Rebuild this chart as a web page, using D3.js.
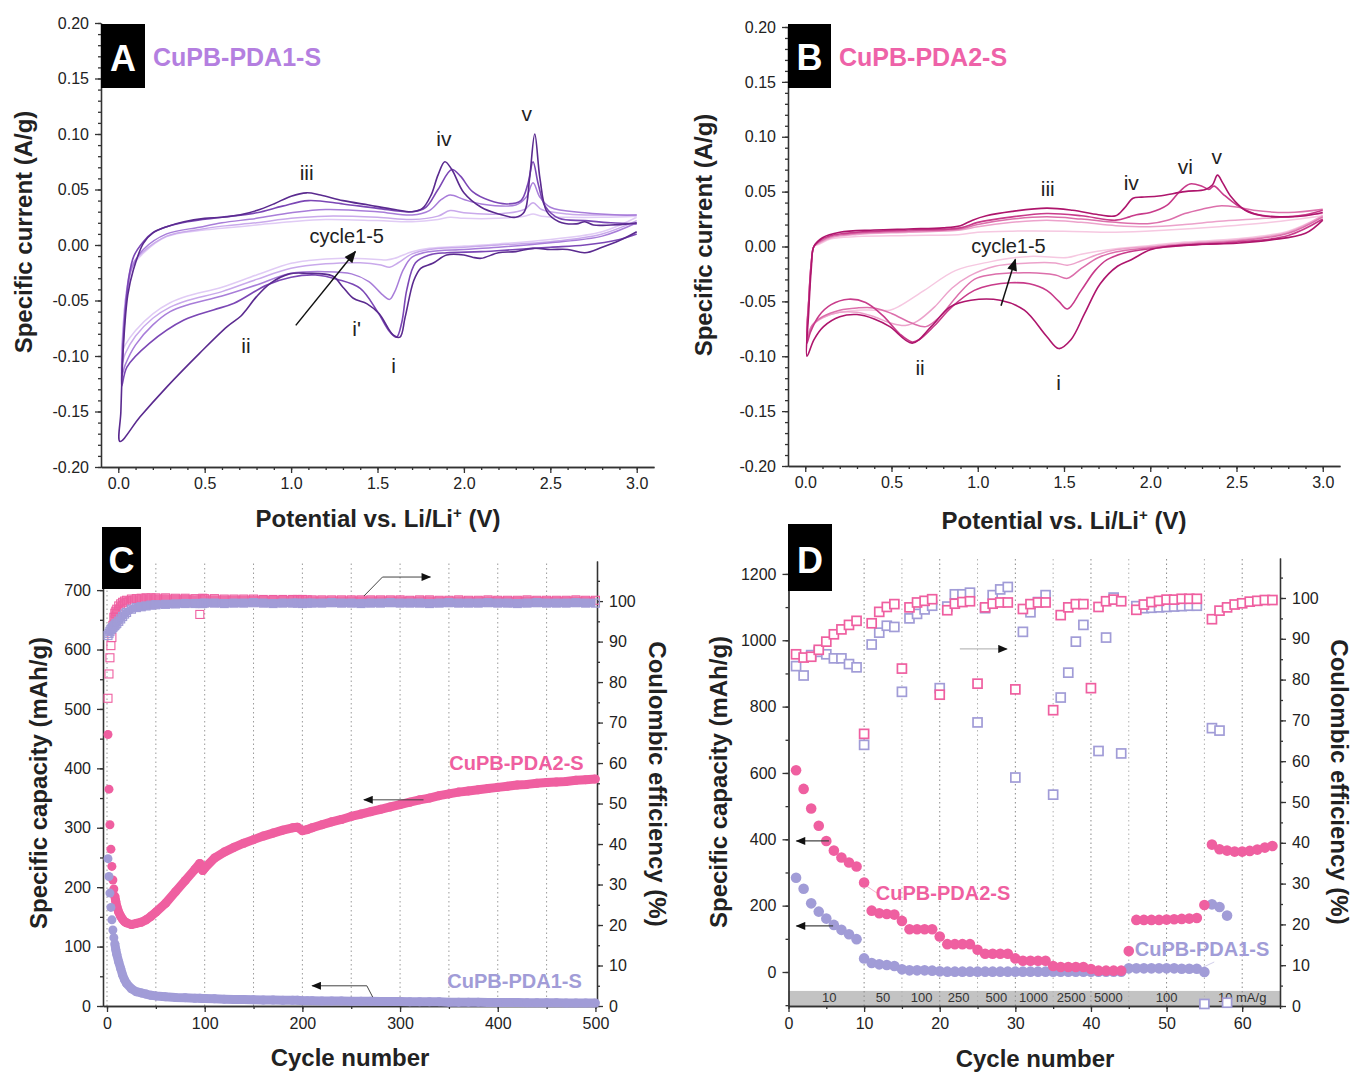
<!DOCTYPE html>
<html><head><meta charset="utf-8">
<script src="https://cdn.jsdelivr.net/npm/d3@7"></script>
<style>
body{margin:0;background:#fff;}
svg text{font-family:"Liberation Sans",Arial,sans-serif;}
</style></head><body>
<svg id="chart" width="1354" height="1074"></svg>
<script>
// ---------------- DATA ----------------
// Panel A: CV of CuPB-PDA1-S, cycles 1..5, [potential V, current A/g]
const cvA1 = [[3.0,0.012],[2.9,0.004],[2.8,-0.002],[2.7,-0.007],[2.6,-0.004],[2.5,-0.004],[2.4,-0.003],[2.3,-0.006],[2.2,-0.007],[2.1,-0.012],[2.05,-0.011],[2.0,-0.009],[1.9,-0.009],[1.82,-0.0165],[1.75,-0.021],[1.71,-0.032],[1.66,-0.065],[1.63,-0.083],[1.59,-0.081],[1.51,-0.062],[1.44,-0.053],[1.36,-0.048],[1.3,-0.038],[1.24,-0.028],[1.09,-0.0255],[0.99,-0.026],[0.88,-0.0345],[0.8,-0.0465],[0.74,-0.0585],[0.71,-0.064],[0.63,-0.0735],[0.47,-0.0976],[0.28,-0.128],[0.125,-0.155],[0.01,-0.177],
  [0.015,-0.15],[0.03,-0.09],[0.055,-0.045],[0.087,-0.0225],[0.145,0.0015],[0.2,0.011],[0.28,0.0165],[0.38,0.021],[0.5,0.024],[0.6,0.025],[0.7,0.027],[0.8,0.031],[0.9,0.037],[1.0,0.044],[1.09,0.047],[1.17,0.045],[1.3,0.04],[1.45,0.036],[1.6,0.032],[1.7,0.03],[1.76,0.033],[1.81,0.045],[1.85,0.063],[1.89,0.075],[1.93,0.068],[2.0,0.047],[2.1,0.034],[2.2,0.028],[2.3,0.025],[2.35,0.03],[2.38,0.06],[2.41,0.1],[2.44,0.06],[2.48,0.03],[2.55,0.021],[2.65,0.019],[2.7,0.021],[2.75,0.018],[2.85,0.018],[2.95,0.019],[3.0,0.02]];
const cvA2 = [[3.0,0.01],[2.9,0.005],[2.7,0.0],[2.5,-0.002],[2.3,-0.004],[2.1,-0.006],[1.9,-0.007],[1.8,-0.009],[1.72,-0.016],[1.67,-0.04],[1.64,-0.07],[1.61,-0.083],[1.57,-0.078],[1.5,-0.06],[1.4,-0.039],[1.27,-0.031],[1.14,-0.027],[1.0,-0.029],[0.86,-0.036],[0.67,-0.0525],[0.55,-0.0585],[0.38,-0.0676],[0.18,-0.0886],[0.05,-0.11],[0.02,-0.127],
  [0.025,-0.1],[0.04,-0.06],[0.06,-0.03],[0.09,-0.01],[0.145,0.003],[0.2,0.011],[0.28,0.0165],[0.4,0.021],[0.6,0.025],[0.8,0.029],[0.95,0.035],[1.1,0.04],[1.3,0.037],[1.5,0.033],[1.7,0.03],[1.78,0.034],[1.85,0.05],[1.93,0.068],[1.98,0.062],[2.05,0.048],[2.15,0.04],[2.25,0.037],[2.33,0.04],[2.37,0.055],[2.4,0.075],[2.43,0.055],[2.47,0.035],[2.55,0.024],[2.7,0.022],[2.85,0.02],[3.0,0.019]];
const cvA3 = [[3.0,0.02],[2.8,0.008],[2.5,0.002],[2.2,-0.002],[2.0,-0.004],[1.8,-0.006],[1.7,-0.011],[1.65,-0.022],[1.6,-0.042],[1.57,-0.049],[1.53,-0.045],[1.45,-0.033],[1.35,-0.026],[1.2,-0.024],[1.0,-0.0255],[0.8,-0.036],[0.6,-0.046],[0.4,-0.054],[0.3,-0.06],[0.2,-0.072],[0.1,-0.09],[0.04,-0.108],[0.02,-0.118],
  [0.025,-0.09],[0.045,-0.05],[0.08,-0.02],[0.145,-0.004],[0.28,0.01],[0.47,0.016],[0.6,0.02],[0.8,0.024],[1.0,0.029],[1.2,0.032],[1.5,0.03],[1.7,0.027],[1.8,0.031],[1.87,0.041],[1.92,0.045],[2.0,0.041],[2.1,0.037],[2.3,0.036],[2.36,0.043],[2.4,0.056],[2.44,0.043],[2.5,0.034],[2.7,0.029],[2.9,0.027],[3.0,0.027]];
const cvA4 = [[3.0,0.022],[2.8,0.01],[2.5,0.003],[2.2,0.0],[2.0,-0.002],[1.8,-0.004],[1.7,-0.008],[1.62,-0.016],[1.57,-0.02],[1.52,-0.018],[1.4,-0.016],[1.2,-0.017],[1.0,-0.021],[0.8,-0.031],[0.6,-0.042],[0.4,-0.05],[0.3,-0.056],[0.2,-0.066],[0.1,-0.082],[0.04,-0.098],[0.02,-0.108],
  [0.025,-0.085],[0.045,-0.045],[0.08,-0.018],[0.145,-0.006],[0.28,0.008],[0.47,0.014],[0.6,0.017],[0.8,0.02],[1.0,0.024],[1.2,0.026],[1.5,0.025],[1.7,0.023],[1.85,0.026],[1.92,0.031],[2.0,0.029],[2.2,0.028],[2.35,0.032],[2.4,0.038],[2.45,0.032],[2.6,0.028],[2.8,0.027],[3.0,0.027]];
const cvA5 = [[3.0,0.025],[2.8,0.012],[2.5,0.005],[2.2,0.001],[2.0,-0.001],[1.8,-0.003],[1.7,-0.006],[1.6,-0.012],[1.55,-0.0135],[1.5,-0.013],[1.3,-0.012],[1.1,-0.014],[1.0,-0.0165],[0.8,-0.027],[0.6,-0.038],[0.4,-0.046],[0.3,-0.052],[0.2,-0.062],[0.1,-0.077],[0.04,-0.09],[0.02,-0.097],
  [0.025,-0.08],[0.045,-0.045],[0.08,-0.02],[0.145,-0.0075],[0.28,0.0075],[0.47,0.013],[0.6,0.015],[0.8,0.018],[1.0,0.021],[1.2,0.023],[1.5,0.022],[1.7,0.021],[1.85,0.023],[1.92,0.025],[2.0,0.024],[2.2,0.024],[2.35,0.026],[2.4,0.028],[2.45,0.026],[2.6,0.025],[2.8,0.025],[3.0,0.026]];

// Panel B: CV of CuPB-PDA2-S, cycles 1..5
const cvB1 = [[3.0,0.024],[2.9,0.012],[2.7,0.006],[2.5,0.003],[2.3,0.002],[2.1,0.0],[2.0,-0.003],[1.89,-0.012],[1.81,-0.018],[1.71,-0.034],[1.62,-0.061],[1.54,-0.085],[1.47,-0.093],[1.4,-0.082],[1.27,-0.058],[1.13,-0.049],[0.96,-0.049],[0.84,-0.055],[0.73,-0.073],[0.62,-0.088],[0.49,-0.073],[0.4,-0.066],[0.3,-0.062],[0.2,-0.064],[0.106,-0.073],[0.05,-0.085],[0.01,-0.1],
  [0.02,-0.06],[0.035,-0.02],[0.05,0.0],[0.1,0.008],[0.2,0.013],[0.4,0.015],[0.6,0.016],[0.8,0.017],[0.9,0.019],[0.97,0.024],[1.05,0.028],[1.2,0.032],[1.4,0.035],[1.55,0.033],[1.7,0.029],[1.8,0.028],[1.85,0.035],[1.9,0.044],[1.95,0.045],[2.05,0.046],[2.2,0.05],[2.32,0.052],[2.36,0.056],[2.39,0.065],[2.42,0.058],[2.47,0.045],[2.55,0.033],[2.65,0.028],[2.8,0.027],[2.9,0.028],[3.0,0.031]];
const cvB2 = [[3.0,0.025],[2.8,0.01],[2.5,0.004],[2.2,0.001],[2.0,-0.002],[1.85,-0.006],[1.75,-0.012],[1.68,-0.022],[1.6,-0.04],[1.52,-0.057],[1.47,-0.05],[1.4,-0.04],[1.3,-0.034],[1.19,-0.033],[1.08,-0.035],[0.98,-0.04],[0.85,-0.055],[0.75,-0.072],[0.66,-0.085],[0.62,-0.087],[0.55,-0.08],[0.45,-0.063],[0.35,-0.051],[0.25,-0.048],[0.15,-0.053],[0.08,-0.063],[0.03,-0.078],[0.01,-0.088],
  [0.02,-0.05],[0.035,-0.015],[0.05,0.0],[0.08,0.005],[0.15,0.01],[0.3,0.013],[0.6,0.015],[0.9,0.017],[1.0,0.022],[1.2,0.027],[1.4,0.03],[1.6,0.028],[1.8,0.024],[1.88,0.027],[1.92,0.029],[2.0,0.031],[2.1,0.038],[2.17,0.05],[2.23,0.057],[2.3,0.055],[2.34,0.052],[2.37,0.055],[2.42,0.048],[2.5,0.038],[2.6,0.03],[2.75,0.027],[2.9,0.029],[3.0,0.033]];
const cvB3 = [[3.0,0.027],[2.8,0.012],[2.5,0.005],[2.2,0.002],[2.0,-0.001],[1.8,-0.005],[1.7,-0.01],[1.6,-0.02],[1.52,-0.029],[1.45,-0.026],[1.3,-0.024],[1.07,-0.026],[0.98,-0.03],[0.88,-0.045],[0.78,-0.064],[0.7,-0.073],[0.62,-0.07],[0.5,-0.061],[0.4,-0.056],[0.3,-0.056],[0.2,-0.058],[0.1,-0.064],[0.04,-0.072],[0.01,-0.085],
  [0.02,-0.05],[0.035,-0.015],[0.05,0.0],[0.08,0.004],[0.15,0.009],[0.3,0.012],[0.6,0.014],[0.9,0.016],[1.0,0.02],[1.2,0.025],[1.4,0.027],[1.6,0.025],[1.8,0.022],[2.0,0.021],[2.1,0.024],[2.2,0.03],[2.3,0.034],[2.4,0.037],[2.5,0.036],[2.6,0.033],[2.8,0.031],[3.0,0.034]];
const cvB4 = [[3.0,0.028],[2.8,0.013],[2.5,0.006],[2.2,0.003],[2.0,0.0],[1.8,-0.003],[1.7,-0.007],[1.6,-0.013],[1.52,-0.017],[1.45,-0.015],[1.3,-0.015],[1.1,-0.018],[0.95,-0.027],[0.85,-0.038],[0.75,-0.055],[0.65,-0.068],[0.58,-0.072],[0.5,-0.07],[0.4,-0.064],[0.3,-0.06],[0.2,-0.06],[0.1,-0.065],[0.04,-0.072],[0.01,-0.082],
  [0.02,-0.05],[0.035,-0.015],[0.05,0.0],[0.08,0.003],[0.15,0.008],[0.3,0.011],[0.6,0.013],[0.9,0.015],[1.0,0.018],[1.2,0.022],[1.4,0.024],[1.6,0.022],[1.8,0.019],[2.0,0.018],[2.2,0.02],[2.4,0.023],[2.6,0.025],[2.8,0.027],[3.0,0.03]];
const cvB5 = [[3.0,0.028],[2.8,0.014],[2.5,0.007],[2.2,0.004],[2.0,0.001],[1.8,-0.002],[1.6,-0.007],[1.52,-0.01],[1.3,-0.009],[1.07,-0.014],[0.87,-0.022],[0.69,-0.04],[0.55,-0.054],[0.49,-0.058],[0.4,-0.058],[0.3,-0.058],[0.2,-0.06],[0.1,-0.065],[0.04,-0.072],[0.01,-0.08],
  [0.02,-0.05],[0.035,-0.015],[0.05,0.0],[0.08,0.002],[0.15,0.007],[0.3,0.009],[0.6,0.01],[0.9,0.011],[1.0,0.013],[1.2,0.014],[1.5,0.014],[1.8,0.013],[2.1,0.015],[2.4,0.018],[2.7,0.022],[3.0,0.028]];

const cvTicksX = [0,0.5,1.0,1.5,2.0,2.5,3.0];
const cvTicksY = [-0.2,-0.15,-0.1,-0.05,0,0.05,0.1,0.15,0.2];

// Panel C: long cycling
const cCycles   = [1,2,3,4,5,6,7,8,9,10,12,14,16,18,20,25,30,35,40,45,50,60,70,80,90,95,98,100,110,120,130,140,150,160,170,180,190,195,200,205,210,220,230,240,250,260,270,280,290,300,310,320,330,340,350,360,370,380,390,400,410,420,430,440,450,460,470,480,490,500];
const cPda2Cap  = [457,365,305,264,235,212,197,185,176,168,158,151,146,142,140,137,139,141,145,151,158,173,192,211,230,240,228,232,249,259,267,274,280,286,291,296,300,301,295,297,300,305,310,314,319,323,327,331,335,339,343,347,350,354,357,360,362,364,366,368,370,372,373,375,376,377,378,380,381,382];
const cPda1Cap  = [248,218,190,166,145,128,115,105,95,87,74,63,52,44,38,29,24,22,20,18,17,15.5,14.5,14,13,13,12.5,12.5,12,11.5,11,11,10.5,10,10,9.5,9.5,9.5,9,9,9,8.5,8.5,8.5,8,8,8,7.5,7.5,7.5,7,7,7,7,6.5,6.5,6.5,6.5,6,6,6,6,5.5,5.5,5.5,5.5,5,5,5,5];
const cPda2CE   = [76,82,86,89,91,94,96,97,97.5,98,98.8,99.3,99.7,100,100.2,100.5,100.6,100.7,100.8,100.8,100.8,100.8,100.7,100.7,100.6,96.7,100.7,100.6,100.6,100.5,100.5,100.5,100.5,100.4,100.4,100.4,100.4,100.4,100.4,100.3,100.3,100.3,100.3,100.3,100.3,100.3,100.3,100.3,100.3,100.3,100.2,100.3,100.3,100.2,100.2,100.3,100.2,100.2,100.3,100.2,100.2,100.2,100.3,100.2,100.2,100.2,100.2,100.3,100.2,100.2];
const cPda1CE   = [91.5,92,92.5,93,93.2,93.5,93.8,94,94.3,94.5,95,95.6,96.2,96.8,97.2,98,98.4,98.6,98.8,99,99.1,99.2,99.3,99.4,99.4,99.4,99.4,99.5,99.5,99.4,99.5,99.5,99.6,99.5,99.4,99.5,99.5,99.5,99.4,99.5,99.5,99.5,99.6,99.5,99.5,99.4,99.5,99.5,99.6,99.5,99.5,99.5,99.4,99.5,99.6,99.5,99.5,99.5,99.6,99.5,99.5,99.4,99.5,99.6,99.5,99.5,99.5,99.6,99.5,99.5];

// Panel D: rate capability
const dCycles = [1,2,3,4,5,6,7,8,9,10,11,12,13,14,15,16,17,18,19,20,21,22,23,24,25,26,27,28,29,30,31,32,33,34,35,36,37,38,39,40,41,42,43,44,45,46,47,48,49,50,51,52,53,54,55,56,57,58,59,60,61,62,63,64];
const dPda2Cap = [608,552,493,441,395,366,345,330,318,270,185,177,175,173,154,129,129,129,129,107,84,84,84,84,67,55,55,55,55,41,34,34,34,34,18,15,15,15,15,9,4,4,4,4,63,157,157,157,157,158,159,160,161,163,202,384,370,366,363,363,365,369,375,380];
const dPda1Cap = [284,251,207,182,161,142,127,114,99,41,27,23,21,18,8,5,5,5,4,2,1,1,1,1,1,1,1,1,1,1,1,1,1,1,1,1,1,1,1,1,1,1,1,1,11,11,11,11,11,11,11,10,10,10,0,204,196,170];
const dPda2CE  = [86.2,85.4,85.6,87.3,89.3,91.1,92.3,93.4,94.4,66.7,93.8,96.6,97.8,98.5,82.7,97.7,98.9,99.3,99.7,76.3,97.0,98.6,99.0,99.2,79.0,97.7,98.6,98.9,98.9,77.6,97.3,98.5,98.9,98.9,72.5,95.8,97.7,98.5,98.5,77.9,97.8,99.2,99.6,99.2,null,97.1,98.4,99.0,99.3,99.6,99.6,99.8,99.8,99.8,null,94.8,96.9,97.7,98.4,98.7,99.1,99.3,99.5,99.5];
const dPda1CE  = [83.3,81.0,86.0,86.8,86.2,85.2,85.2,83.8,83.0,64.0,88.6,91.5,93.2,92.9,77.0,95.0,96.1,97.2,98.1,77.9,97.9,100.9,100.9,101.3,69.5,97.5,100.7,102.1,102.7,56.0,91.7,96.5,99.0,100.7,51.8,75.6,81.7,89.3,93.4,null,62.5,90.3,100.1,61.9,null,98.0,97.5,97.6,97.7,97.8,97.9,98.0,98.1,98.1,0.5,68.1,67.5,0.8];
const dRateLabels  = ["10","50","100","250","500","1000","2500","5000","100","10 mA/g"];
const dRateCenters = [5.4,12.5,17.6,22.5,27.5,32.4,37.4,42.3,50,60];
const dRateBreaks  = [10,15,20,25,30,35,40,45,50,55,60];

// ---------------- STYLE ----------------
const PINK = "#ef5fa0", LAV = "#a19cd7";
const colA = ["#5a2a8f","#7b47b5","#a87dd9","#c9a9eb","#e0cbf5"];
const colB = ["#ae156c","#c83b8a","#dc6fab","#eca2cb","#f6c8e1"];
const INK = "#222";

const svg = d3.select("#chart");
const defs = svg.append("defs");
function mkMarker(id, color, w, h){
  defs.append("marker").attr("id",id).attr("viewBox","0 0 12 10").attr("refX",11).attr("refY",5)
    .attr("markerWidth",w).attr("markerHeight",h).attr("markerUnits","userSpaceOnUse").attr("orient","auto")
    .append("path").attr("d","M0,0 L12,5 L0,10 z").attr("fill",color);
}
mkMarker("ah","#111",13,10);
mkMarker("ahs","#111",11,8);

function addAxis(orient, scale, pos, major, minor, fmt, pad){
  const mk = {left:d3.axisLeft, right:d3.axisRight, bottom:d3.axisBottom}[orient];
  const tr = orient==="bottom" ? `translate(0,${pos})` : `translate(${pos},0)`;
  const gm = svg.append("g").attr("transform",tr)
    .call(mk(scale).tickValues(minor).tickSize(3).tickSizeOuter(0).tickFormat(""));
  const g = svg.append("g").attr("transform",tr)
    .call(mk(scale).tickValues(major).tickSize(6).tickSizeOuter(0).tickPadding(pad).tickFormat(fmt));
  [gm,g].forEach(a=>{a.selectAll("path,line").attr("stroke","#333").attr("stroke-width",1.3);});
  g.attr("font-family","Liberation Sans, Arial, sans-serif").attr("font-size",16);
  g.selectAll("text").attr("fill",INK);
  return g;
}
function rangeStep(a,b,s){const out=[];const n=Math.round((b-a)/s);for(let i=0;i<=n;i++)out.push(+(a+i*s).toFixed(6));return out;}

function title(x,y,txt,rot,opts={}){
  const t = svg.append("text").attr("font-weight","bold").attr("font-size",opts.size||24).attr("fill",INK)
    .attr("text-anchor","middle")
    .attr("transform",`translate(${x},${y})`+(rot?` rotate(${rot})`:""));
  if(opts.sup){
    t.append("tspan").text(txt[0]);
    t.append("tspan").attr("dy",-9).attr("font-size",15).text(txt[1]);
    t.append("tspan").attr("dy",9).text(txt[2]);
  } else t.text(txt);
  return t;
}
function letterBox(x0,y0,x1,y1,letter,by){
  svg.append("rect").attr("x",x0).attr("y",y0).attr("width",x1-x0).attr("height",y1-y0).attr("fill","#000");
  svg.append("text").attr("x",(x0+x1)/2).attr("y",by).attr("text-anchor","middle")
    .attr("fill","#fff").attr("font-family","Lato, 'Open Sans', sans-serif").attr("font-weight","bold")
    .attr("font-size",36).text(letter);
}

// ---------------- PANELS A & B (CV) ----------------
function cvPanel(cfg){
  const x = d3.scaleLinear([-0.1,3.1],[cfg.x0,cfg.x1]);
  const y = d3.scaleLinear([-0.2,0.2],[cfg.yb,cfg.yt]);
  addAxis("left", y, cfg.x0, cvTicksY, rangeStep(-0.2,0.2,0.01), d=>d.toFixed(2), 6);
  addAxis("bottom", x, cfg.yb, cvTicksX, rangeStep(0,3.0,0.1), d=>d.toFixed(1), 5);
  const line = d3.line().x(d=>x(d[0])).y(d=>y(d[1])).curve(d3.curveCatmullRom.alpha(0.5));
  const g = svg.append("g");
  cfg.cycles.slice().reverse().forEach((c,i)=>{
    const k = cfg.cycles.length-1-i;
    g.append("path").datum(c).attr("d",line).attr("fill","none")
      .attr("stroke",cfg.colors[k]).attr("stroke-width",k<2?1.6:1.5).attr("stroke-linejoin","round");
  });
  cfg.labels.forEach(l=>{
    svg.append("text").attr("x",x(l[1])).attr("y",y(l[2])).attr("text-anchor","middle")
      .attr("font-size",l[3]||21).attr("fill",INK).text(l[0]);
  });
  svg.append("line").attr("x1",x(cfg.arrow[0][0])).attr("y1",y(cfg.arrow[0][1]))
    .attr("x2",x(cfg.arrow[1][0])).attr("y2",y(cfg.arrow[1][1]))
    .attr("stroke","#111").attr("stroke-width",1.5).attr("marker-end","url(#ah)");
  return {x,y};
}
const cvLabelsA = [["iii",1.09,0.0588],["iv",1.884,0.0894],["v",2.364,0.112],["ii",0.739,-0.0969],["i'",1.379,-0.0816],["i",1.593,-0.1152],["cycle1-5",1.322,0.0014,20]];
const cvLabelsB = [["iii",1.406,0.0461],["iv",1.89,0.0518],["vi",2.203,0.0665],["v",2.385,0.0749],["ii",0.666,-0.1167],["i",1.468,-0.1308],["cycle1-5",1.178,-0.0056,20]];

cvPanel({x0:101,x1:654,yt:23,yb:467,cycles:[cvA1,cvA2,cvA3,cvA4,cvA5],colors:colA,labels:cvLabelsA,arrow:[[1.027,-0.0724],[1.372,-0.0059]]});
cvPanel({x0:788,x1:1340,yt:27,yb:466,cycles:[cvB1,cvB2,cvB3,cvB4,cvB5],colors:colB,labels:cvLabelsB,arrow:[[1.135,-0.054],[1.218,-0.0118]]});

letterBox(101,24,145,88,"A",71);
letterBox(788,24,831,88,"B",70);
svg.append("text").attr("x",153).attr("y",66).attr("font-family","Lato, 'Open Sans', sans-serif").attr("font-weight","bold")
  .attr("font-size",25).attr("fill","#b47fe0").text("CuPB-PDA1-S");
svg.append("text").attr("x",839).attr("y",66).attr("font-family","Lato, 'Open Sans', sans-serif").attr("font-weight","bold")
  .attr("font-size",25).attr("fill","#ee62a8").text("CuPB-PDA2-S");

title(32,232,"Specific current (A/g)",-90);
title(712,235,"Specific current (A/g)",-90);
title(378,527,["Potential vs. Li/Li","+"," (V)"],0,{sup:true});
title(1064,529,["Potential vs. Li/Li","+"," (V)"],0,{sup:true});

// ---------------- PANEL C ----------------
{
  const x = d3.scaleLinear([-4.1,501.6],[103,597]);
  const yL = d3.scaleLinear([0,749],[1006,561]);
  const yR = d3.scaleLinear([0,109.9],[1006,561]);
  // dotted grid
  svg.append("g").selectAll("line").data([0,50,100,150,200,250,300,350,400,450]).join("line")
    .attr("x1",d=>x(d)).attr("x2",d=>x(d)).attr("y1",1006).attr("y2",561)
    .attr("stroke","#9a9a9a").attr("stroke-width",1).attr("stroke-dasharray","1.5,3");
  addAxis("left", yL, 103, [0,100,200,300,400,500,600,700], rangeStep(0,700,50), d=>d, 6);
  addAxis("right", yR, 597, [0,10,20,30,40,50,60,70,80,90,100], rangeStep(0,105,5), d=>d, 6);
  addAxis("bottom", x, 1006, [0,100,200,300,400,500], rangeStep(0,500,50), d=>d, 6);

  const capRows = (vals)=>cCycles.map((c,i)=>[c,vals[i]]);
  const bandLine = (sy)=>d3.line().x(d=>x(d[0])).y(d=>sy(d[1]));
  // CE bands + squares
  const ce2 = capRows(cPda2CE), ce1 = capRows(cPda1CE);
  svg.append("path").datum(ce2.filter(d=>d[0]>=6 && d[0]!==95)).attr("d",bandLine(yR)).attr("fill","none").attr("stroke",PINK).attr("stroke-width",7).attr("opacity",0.9);
  svg.append("g").selectAll("rect").data(ce2).join("rect")
    .attr("x",d=>x(d[0])-4).attr("y",d=>yR(d[1])-4).attr("width",8).attr("height",8)
    .attr("fill","none").attr("stroke",PINK).attr("stroke-width",1.1);
  svg.append("path").datum(ce1).attr("d",bandLine(yR)).attr("fill","none").attr("stroke",LAV).attr("stroke-width",8);
  svg.append("g").selectAll("rect").data(ce1).join("rect")
    .attr("x",d=>x(d[0])-4).attr("y",d=>yR(d[1])-4).attr("width",8).attr("height",8)
    .attr("fill","none").attr("stroke",LAV).attr("stroke-width",1.2);
  // capacity bands + dots
  const cap2 = capRows(cPda2Cap), cap1 = capRows(cPda1Cap);
  svg.append("path").datum(cap2.filter(d=>d[0]>=8)).attr("d",bandLine(yL)).attr("fill","none").attr("stroke",PINK).attr("stroke-width",9).attr("stroke-linejoin","round");
  svg.append("g").selectAll("circle").data(cap2).join("circle").attr("cx",d=>x(d[0])).attr("cy",d=>yL(d[1])).attr("r",4.5).attr("fill",PINK);
  svg.append("path").datum(cap1.filter(d=>d[0]>=8)).attr("d",bandLine(yL)).attr("fill","none").attr("stroke",LAV).attr("stroke-width",9).attr("stroke-linejoin","round");
  svg.append("g").selectAll("circle").data(cap1).join("circle").attr("cx",d=>x(d[0])).attr("cy",d=>yL(d[1])).attr("r",4.5).attr("fill",LAV);

  // annotations (data units: cycle, capacity)
  const arrowTop = [[263,690],[282,722],[331,722]];
  const arrowMid = [[324,347],[263,347]];
  const arrowBot = [[272,15],[266,34],[210,34]];
  const pl = d3.line().x(d=>x(d[0])).y(d=>yL(d[1]));
  [arrowTop,arrowMid,arrowBot].forEach(a=>{
    svg.append("path").attr("d",pl(a)).attr("fill","none").attr("stroke","#444").attr("stroke-width",1).attr("marker-end","url(#ahs)");
  });
  svg.append("text").attr("x",x(488)).attr("y",yL(397)).attr("text-anchor","end").attr("font-weight","bold").attr("font-size",20).attr("fill",PINK).text("CuPB-PDA2-S");
  svg.append("text").attr("x",x(486)).attr("y",yL(30)).attr("text-anchor","end").attr("font-weight","bold").attr("font-size",20).attr("fill",LAV).text("CuPB-PDA1-S");

  letterBox(102,527,141,589,"C",573);
  title(47,783,"Specific capacity (mAh/g)",-90);
  title(649,784,"Coulombic efficiency (%)",90);
  title(350,1066,"Cycle number",0);
}

// ---------------- PANEL D ----------------
{
  const x = d3.scaleLinear([0,65],[788.5,1280]);
  const yL = d3.scaleLinear([-102.5,1248],[1006,558]);
  const yR = d3.scaleLinear([0,109.8],[1006,558]);
  // gray band with current-rate labels
  svg.append("rect").attr("x",x(0)).attr("y",yL(-57)).attr("width",x(65)-x(0)).attr("height",yL(-102.5)-yL(-57)).attr("fill","#c3c3c3");
  svg.append("g").selectAll("line").data(dRateBreaks).join("line")
    .attr("x1",d=>x(d)).attr("x2",d=>x(d)).attr("y1",1006).attr("y2",558)
    .attr("stroke",d=>d%10===0?"#8a8a8a":"#b0b0b0").attr("stroke-width",1).attr("stroke-dasharray","1.5,3");
  svg.append("g").selectAll("text").data(dRateLabels).join("text")
    .attr("x",(d,i)=>x(dRateCenters[i])).attr("y",yL(-89)).attr("text-anchor","middle")
    .attr("font-size",13).attr("fill","#333").text(d=>d);

  addAxis("left", yL, 788.5, [0,200,400,600,800,1000,1200], rangeStep(-100,1200,100), d=>d, 6);
  addAxis("right", yR, 1280, [0,10,20,30,40,50,60,70,80,90,100], rangeStep(0,105,5), d=>d, 6);
  addAxis("bottom", x, 1006, [0,10,20,30,40,50,60], rangeStep(0,65,5), d=>d, 6);

  const rows = (vals)=>vals.map((v,i)=>[dCycles[i],v]).filter(d=>d[1]!==null);
  const sq = 9;
  svg.append("g").selectAll("rect").data(rows(dPda1CE)).join("rect")
    .attr("x",d=>x(d[0])-sq/2).attr("y",d=>yR(d[1])-sq/2).attr("width",sq).attr("height",sq)
    .attr("fill","#fff").attr("stroke",LAV).attr("stroke-width",1.7);
  svg.append("g").selectAll("rect").data(rows(dPda2CE)).join("rect")
    .attr("x",d=>x(d[0])-sq/2).attr("y",d=>yR(d[1])-sq/2).attr("width",sq).attr("height",sq)
    .attr("fill","#fff").attr("stroke",PINK).attr("stroke-width",1.7);
  svg.append("g").selectAll("circle").data(rows(dPda1Cap)).join("circle")
    .attr("cx",d=>x(d[0])).attr("cy",d=>yL(d[1])).attr("r",5.3).attr("fill",LAV);
  svg.append("g").selectAll("circle").data(rows(dPda2Cap)).join("circle")
    .attr("cx",d=>x(d[0])).attr("cy",d=>yL(d[1])).attr("r",5.3).attr("fill",PINK);

  // annotations (data units: cycle, capacity)
  const arrowR  = [[22.66,974],[28.9,974]];
  const arrowL1 = [[5.35,395],[1.05,395]];
  const arrowL2 = [[5.9,139],[1.05,139]];
  const pl = d3.line().x(d=>x(d[0])).y(d=>yL(d[1]));
  svg.append("path").attr("d",pl(arrowR)).attr("stroke","#bbb").attr("stroke-width",1.2).attr("marker-end","url(#ahs)");
  [arrowL1,arrowL2].forEach(a=>svg.append("path").attr("d",pl(a)).attr("stroke","#444").attr("stroke-width",1.2).attr("marker-end","url(#ahs)"));
  svg.append("path").attr("d",pl([[10.4,258],[11.7,238]])).attr("stroke",PINK).attr("stroke-width",0.8).attr("opacity",0.6);
  svg.append("path").attr("d",pl([[54.6,12],[56.3,30]])).attr("stroke",LAV).attr("stroke-width",0.8).attr("opacity",0.6);
  svg.append("text").attr("x",x(11.55)).attr("y",yL(218)).attr("font-weight","bold").attr("font-size",20).attr("fill",PINK).text("CuPB-PDA2-S");
  svg.append("text").attr("x",x(45.8)).attr("y",yL(47)).attr("font-weight","bold").attr("font-size",20).attr("fill",LAV).text("CuPB-PDA1-S");

  letterBox(788,524,832,591,"D",573);
  title(727,782,"Specific capacity (mAh/g)",-90);
  title(1331,782,"Coulombic efficiency (%)",90);
  title(1035,1067,"Cycle number",0);
}
</script></body></html>
